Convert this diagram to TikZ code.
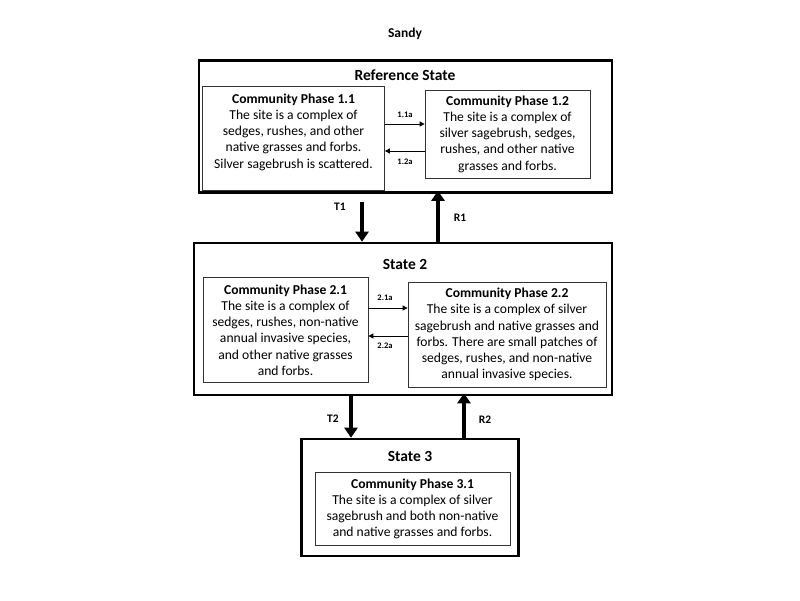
\documentclass[tikz,border=0pt]{standalone}
\usepackage{fontspec}
\setmainfont{Carlito}
\usetikzlibrary{arrows.meta}
\begin{document}
\begin{tikzpicture}[x=1pt,y=-1pt,
  outerbox/.style={draw=black,line width=2.6pt,minimum width=#1,inner sep=0pt},
  phasebox/.style={draw=black!80,line width=0.8pt,align=center,inner sep=0pt,font=\fontsize{13.6}{16.2}\selectfont},
  phasetext/.style={align=center,inner sep=0pt,font=\fontsize{13.6}{16.2}\selectfont},
  ttl/.style={font=\bfseries\fontsize{15.5}{18}\selectfont},
  small/.style={font=\bfseries\fontsize{8.5}{10}\selectfont},
  lbl/.style={font=\bfseries\fontsize{11.5}{13}\selectfont},
  thin/.style={line width=1pt,-{Triangle[length=5pt,width=5pt]}},
  thick/.style={line width=3.5pt,-{Triangle[length=10pt,width=13pt]}}]
\useasboundingbox (0,0) rectangle (800,600);
\node[font=\bfseries\fontsize{13.5}{15}\selectfont] (title) at (405,34) {Sandy};
% Reference State
\node[outerbox=413pt,minimum height=132pt] (rs) at (405.5,126.5) {};
\node[ttl] (rst) at (405,75) {Reference State};
\node[phasebox,minimum width=182pt,minimum height=104pt] (p11) at (293.5,138) {};
\node[phasetext] (p11t) at (293.5,132) {\textbf{Community Phase 1.1}\\The site is a complex of\\sedges, rushes, and other\\native grasses and forbs.\\Silver sagebrush is scattered.};
\node[phasebox,minimum width=165pt,minimum height=88pt] (p12) at (507.5,134) {\textbf{Community Phase 1.2}\\The site is a complex of\\silver sagebrush, sedges,\\rushes, and other native\\grasses and forbs.};
\draw[thin] (p11.east |- 0,124) -- (p12.west |- 0,124);
\draw[thin] (p12.west |- 0,151) -- (p11.east |- 0,151);
\node[small] (l11) at (405,115) {1.1a};
\node[small] (l12) at (405,162) {1.2a};
% State 2
\node[outerbox=418pt,minimum height=152pt] (s2) at (403,319) {};
\node[ttl] (s2t) at (405,264) {State 2};
\node[phasebox,minimum width=165pt,minimum height=105pt] (p21) at (285.5,330) {\textbf{Community Phase 2.1}\\The site is a complex of\\sedges, rushes, non-native\\annual invasive species,\\and other native grasses\\and forbs.};
\node[phasebox,minimum width=198pt,minimum height=105pt] (p22) at (507,334.5) {\textbf{Community Phase 2.2}\\The site is a complex of silver\\sagebrush and native grasses and\\forbs. There are small patches of\\sedges, rushes, and non-native\\annual invasive species.};
\draw[thin] (p21.east |- 0,308) -- (p22.west |- 0,308);
\draw[thin] (p22.west |- 0,336) -- (p21.east |- 0,336);
\node[small] (l21) at (385,298) {2.1a};
\node[small] (l22) at (385,346) {2.2a};
% State 3
\node[outerbox=217pt,minimum height=117pt] (s3) at (410,497.5) {};
\node[ttl] (s3t) at (410,456) {State 3};
\node[phasebox,minimum width=195pt,minimum height=73pt] (p31) at (412.5,509) {\textbf{Community Phase 3.1}\\The site is a complex of silver\\sagebrush and both non-native\\and native grasses and forbs.};
% transitions
\draw[thick] (rs.south -| 362,0) ++(0,8) -- (s2.north -| 362,0);
\draw[thick] (s2.north -| 438,0) -- ([yshift=3pt]rs.south -| 438,0);
\node[lbl] (t1) at (340,207) {T1};
\node[lbl] (r1) at (460,218) {R1};
\draw[thick] (s2.south -| 351,0) -- (s3.north -| 351,0);
\draw[thick] (s3.north -| 464,0) -- ([yshift=3pt]s2.south -| 464,0);
\node[lbl] (t2) at (333,419) {T2};
\node[lbl] (r2) at (485,420) {R2};
\end{tikzpicture}
\end{document}
